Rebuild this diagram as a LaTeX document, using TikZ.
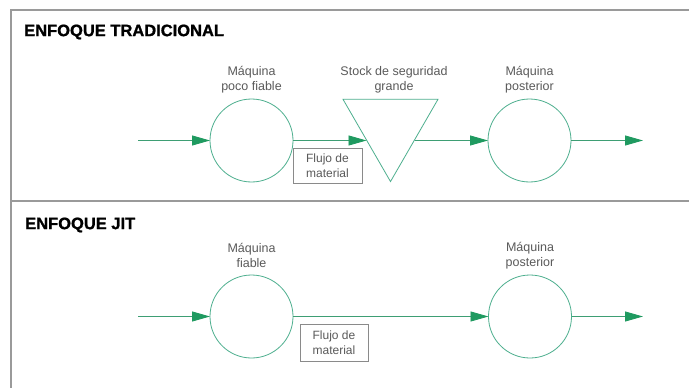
\documentclass[tikz,border=0pt]{standalone}
\usepackage{fontspec}
\setmainfont{Liberation Sans}
\newfontfamily\titlefont{Liberation Sans Bold}[FakeBold=1.2]
\usetikzlibrary{arrows.meta,shapes.geometric,calc}
\definecolor{arrowgreen}{HTML}{1F9A60}
\definecolor{linegreen}{HTML}{3E9E74}
\definecolor{circgreen}{HTML}{4DAF8E}
\definecolor{framegray}{HTML}{9A9A9A}
\definecolor{boxgray}{HTML}{8A8A8A}
\definecolor{textgray}{HTML}{5A5A5A}
\begin{document}
\begin{tikzpicture}[x=1pt,y=-1pt,
  machine/.style={circle, draw=circgreen, line width=0.8pt, minimum size=83pt, inner sep=0pt, outer sep=0pt},
  stockbox/.style={regular polygon, regular polygon sides=3, shape border rotate=180, draw=circgreen, line width=0.8pt, minimum size=109.7pt, inner sep=0pt, outer sep=0pt},
  lbl/.style={font=\fontsize{12.5}{15}\selectfont, text=textgray, align=center, inner sep=0pt},
  flowbox/.style={draw=boxgray, line width=0.8pt, font=\fontsize{12}{15.5}\selectfont, text=textgray, align=center, minimum width=69pt, minimum height=35pt, inner sep=0pt},
  flow/.style={draw=linegreen, line width=0.9pt, -{Triangle[length=18pt,width=10pt,color=arrowgreen]}},
  frameline/.style={draw=framegray, line width=1.3pt},
  title/.style={font=\titlefont\fontsize{16.5}{18}\selectfont, anchor=west, inner sep=0pt, text=black}
]
\useasboundingbox (0,0) rectangle (689,388);
\fill[white] (0,0) rectangle (689,388);
% frame
\draw[frameline] (689,10) -- (11,10) -- (11,388);
\draw[frameline] (11,201) -- (689,201);
% titles
\node[title] (t1) at (24,32) {ENFOQUE TRADICIONAL};
\node[title] (t2) at (25,225) {ENFOQUE JIT};
% traditional
\node[machine] (c1) at (251.5,140.5) {};
\node[stockbox] (tri) at (390.5,126.7) {};
\node[machine] (c2) at (529.5,140.5) {};
\node[lbl] (l1) at (251.5,79.5) {Máquina\\poco fiable};
\node[lbl] (l2) at (394,79.5) {Stock de seguridad\\grande};
\node[lbl] (l3) at (529.5,79.5) {Máquina\\posterior};
\node[flowbox] (b1) at (327.5,165.5) {Flujo de\\material};
\coordinate (in1) at (138,140.5);
\coordinate (tin) at (366.5,140.5);
\coordinate (tout) at (414.5,140.5);
\coordinate (out1) at (643,140.5);
\draw[flow] (in1) -- (c1);
\draw[flow] (c1) -- (tin);
\draw[flow] (tout) -- (c2);
\draw[flow] (c2) -- (out1);
% JIT
\node[machine] (j1) at (251.5,316.5) {};
\node[machine] (j2) at (530,316.5) {};
\node[lbl] (l4) at (251.5,255.5) {Máquina\\fiable};
\node[lbl] (l5) at (530,255.5) {Máquina\\posterior};
\node[flowbox, minimum width=68pt, minimum height=37pt] (b2) at (334,342.5) {Flujo de\\material};
\coordinate (in2) at (138,316.5);
\coordinate (out2) at (643,316.5);
\draw[flow] (in2) -- (j1);
\draw[flow] (j1) -- (j2);
\draw[flow] (j2) -- (out2);
\end{tikzpicture}
\end{document}
